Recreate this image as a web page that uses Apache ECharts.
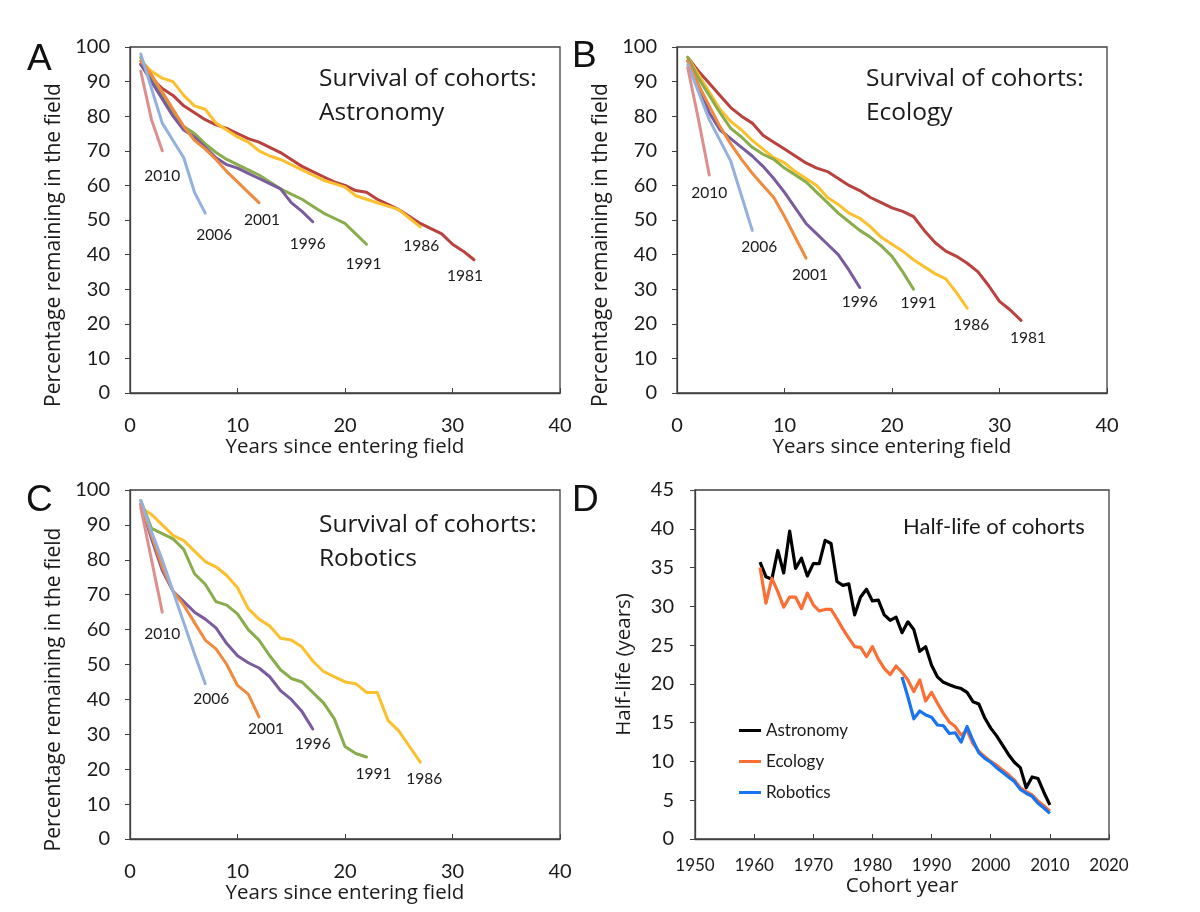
<!DOCTYPE html>
<html><head><meta charset="utf-8">
<script src="https://cdn.jsdelivr.net/npm/echarts@6/dist/echarts.min.js"></script>
<style>html,body{margin:0;padding:0;background:#fff}#c{width:1200px;height:912px}</style>
</head><body><div id="c"></div>
<script>
// ---------- DATA ----------
const cohortNames = ['1981','1986','1991','1996','2001','2006','2010'];
// Astronomy (A) - % remaining, year 1..N since entering field
const astro1981 = [95,91,88,86,83,81,79,77.5,76.5,75,73.5,72.5,71,69.5,67.5,65.5,64,62.5,61,60,58.5,58,56,54.5,53,51,49,47.5,46,43,41,38.5];
const astro1986 = [96,93,91,90,86,83,82,78,76,74,72.5,70,68.5,67.5,66,64.5,63,61.5,60.5,59.5,57,56,55,54,53,50.5,48];
const astro1991 = [97,91,86,81,77,75,72,69.5,67.5,66,64.5,63,61,59,57.5,56,54,52,50.5,49,46,43];
const astro1996 = [95,90,85,80,76,74,71,68,66,65,63.5,62,60.5,59,55,52.5,49.5];
const astro2001 = [96,92,87,82,77,73,70.5,67.5,64,61,58,55];
const astro2006 = [98,88,78,73,68,58,52];
const astro2010 = [93,79,70];
// Ecology (B)
const eco1981 = [97,93,89.5,86,82.5,80,78,74.5,72.5,70.5,68.5,66.5,65,64,62,60,58.5,56.5,55,53.5,52.5,51,47,43.5,41,39.5,37.5,35,31,26.5,24,21];
const eco1986 = [97,92,87,82,78.5,76,73,70.5,68,66.5,64,62,60,56.5,54.5,52,50.5,48,45,43,41,38.5,36.5,34.5,33,29,24.5];
const eco1991 = [97,91,86,81,76.5,74,71,69,67.5,65,63,61,58,55,52,49.5,47,45,42.5,39.5,35,30];
const eco1996 = [96,89,81,76,73.5,71,68.5,65.5,62,58,53.5,49,46,43,40,35.5,30.5];
const eco2001 = [96,89,83,77,72,67.5,63.5,60,56.5,51,45,39];
const eco2006 = [95,87,79,73,67,57,47];
const eco2010 = [94,79,63];
// Robotics (C)
const rob1986 = [95,93,90,87,85.5,82.5,79.5,78,75.5,72,66,63,61,57.5,57,55,51,48,46.5,45,44.5,42,42,34,31,26.5,22];
const rob1991 = [97,89,87.5,86,83,76,73,68,67,64.5,60,57,52.5,48.5,46,45,42,39,34.5,26.5,24.5,23.5];
const rob1996 = [96,86,77,71,68,65,63,60.5,56,52.5,50.5,49,46.5,42.5,40,36.5,31.5];
const rob2001 = [96,87,78,71,67,62,57,54.5,50,44,41.5,35];
const rob2006 = [97,88,80,71,62,53,44.5];
const rob2010 = [95,80,65];
// Half-life (D)
const hlYearsAll = Array.from({length:50},(_,i)=>1961+i);
const hlYearsRobo = Array.from({length:26},(_,i)=>1985+i);
const hlAstronomy = [35.7,33.8,33.5,37.2,34.3,39.7,34.9,36.2,33.9,35.5,35.5,38.5,38.1,33.2,32.7,32.9,28.9,31.2,32.2,30.7,30.8,28.9,28.2,28.6,26.6,28.0,27.0,24.2,24.8,22.4,20.9,20.2,19.9,19.6,19.4,18.9,17.7,17.4,15.6,14.3,13.3,12.1,10.9,9.9,9.2,6.6,8.0,7.8,6.0,4.4];
const hlEcology = [35.0,30.4,33.6,31.9,29.9,31.2,31.2,29.7,31.7,30.2,29.4,29.6,29.6,28.4,27.1,25.9,24.8,24.7,23.5,24.8,23.2,22.0,21.2,22.3,21.5,20.5,19.0,20.5,17.8,18.9,17.5,16.2,15.1,14.5,13.4,14.0,12.3,11.3,10.6,10.0,9.5,8.9,8.3,7.6,6.6,6.1,5.7,4.9,4.3,3.6];
const hlRobotics = [20.9,18.3,15.5,16.5,16.0,15.7,14.7,14.6,13.6,13.7,12.5,14.5,12.7,11.1,10.4,9.9,9.2,8.6,8.0,7.4,6.4,5.9,5.5,4.6,4.0,3.3];

// ---------- STYLE ----------
const FONT = 'Lato, "Open Sans", sans-serif';
const FONT2 = '"Open Sans", Lato, sans-serif';
const AX = '#404040';
const TXT = '#1a1a1a';
const cohortColors = ['#b9423f','#fcc02e','#89ad4d','#7a5c9e','#ef8a3f','#93b1dc','#dd8f8e'];
const labelOffsets = [
  [[-9,16],[1,19],[-3,20],[-5,22],[3,17],[9,22],[0,25]],
  [[7,18],[4,17],[5,14],[0,15],[4,17],[7,17],[0,18]],
  [null,[4,17],[7,17],[0,15],[7,12],[6,15],[0,22]]
];
const panelData = [
  [astro1981,astro1986,astro1991,astro1996,astro2001,astro2006,astro2010],
  [eco1981,eco1986,eco1991,eco1996,eco2001,eco2006,eco2010],
  [null,rob1986,rob1991,rob1996,rob2001,rob2006,rob2010]
];

const grids = [
  {left:130, top:47, width:430, height:346},
  {left:677, top:47, width:430, height:346},
  {left:130, top:490, width:430, height:349},
  {left:695, top:490, width:414, height:349}
].map(g=>Object.assign(g,{show:true,borderColor:AX,borderWidth:1.3,backgroundColor:'transparent'}));

function baseAxis(){
  return {
    axisLine:{show:true,lineStyle:{color:AX,width:1.3}},
    splitLine:{show:false},
    nameTextStyle:{fontFamily:FONT2,fontSize:20.5,color:TXT},
    nameLocation:'middle'
  };
}
const xAxes = [], yAxes = [];
for(let i=0;i<3;i++){
  xAxes.push(Object.assign(baseAxis(),{gridIndex:i,type:'value',min:0,max:40,interval:10,
    axisTick:{show:true,inside:true,length:5,lineStyle:{color:AX}},
    axisLabel:{fontFamily:FONT,fontSize:20,color:TXT,margin:23},
    name:'Years since entering field',nameGap:39}));
  yAxes.push(Object.assign(baseAxis(),{gridIndex:i,type:'value',min:0,max:100,interval:10,
    axisTick:{show:true,inside:false,length:5,lineStyle:{color:AX}},
    axisLabel:{fontFamily:FONT,fontSize:20,color:TXT,margin:20},
    name:'Percentage remaining in the field',nameGap:65,nameRotate:90,
    nameTextStyle:{fontFamily:FONT2,fontSize:21,color:TXT,padding:[0,50,0,0]}}));
}
xAxes.push(Object.assign(baseAxis(),{gridIndex:3,type:'value',min:1950,max:2020,interval:10,
  axisTick:{show:true,inside:true,length:5,lineStyle:{color:AX}},
  axisLabel:{fontFamily:FONT,fontSize:17,color:TXT,margin:18,formatter:v=>String(v)},
  name:'Cohort year',nameGap:37}));
yAxes.push(Object.assign(baseAxis(),{gridIndex:3,type:'value',min:0,max:45,interval:5,
  axisTick:{show:true,inside:false,length:5,lineStyle:{color:AX}},
  axisLabel:{fontFamily:FONT,fontSize:20,color:TXT,margin:21},
  name:'Half-life (years)',nameGap:60,nameRotate:90}));

const series = [];
panelData.forEach((arrs,p)=>{
  arrs.forEach((arr,k)=>{
    if(!arr) return;
    const data = arr.map((v,i)=>[i+1,v]);
    const last = data.length-1;
    data[last] = {value:data[last], label:{show:true,formatter:cohortNames[k],position:'inside',
      offset:labelOffsets[p][k],fontFamily:FONT,fontSize:15.5,color:TXT}};
    series.push({type:'line',name:'P'+p+'_'+cohortNames[k],xAxisIndex:p,yAxisIndex:p,data,
      symbol:'circle',symbolSize:0,showSymbol:true,label:{show:false},
      lineStyle:{width:3,color:cohortColors[k],join:'round',cap:'round'},itemStyle:{color:cohortColors[k]},
      silent:true});
  });
});
const hlColors = {Astronomy:'#000000',Ecology:'#fb6f35',Robotics:'#1874f0'};
[['Astronomy',hlYearsAll,hlAstronomy],['Ecology',hlYearsAll,hlEcology],['Robotics',hlYearsRobo,hlRobotics]].forEach(([n,xs,ys])=>{
  series.push({type:'line',name:n,xAxisIndex:3,yAxisIndex:3,data:xs.map((x,i)=>[x,ys[i]]),
    symbol:'none',lineStyle:{width:3.2,color:hlColors[n],join:'round'},itemStyle:{color:hlColors[n]},silent:true});
});

const LET = {fontFamily:'"Liberation Sans", Arial, sans-serif',fontSize:37,fontWeight:'normal',color:'#111'};
const TTL = {fontFamily:FONT2,fontSize:24.5,fontWeight:'normal',color:TXT,lineHeight:34};
const titles = [
  {text:'A',left:27,top:41,textStyle:LET},
  {text:'B',left:572,top:38,textStyle:LET},
  {text:'C',left:26,top:482,textStyle:LET},
  {text:'D',left:572,top:482,textStyle:LET},
  {text:'Survival of cohorts:\nAstronomy',left:319,top:62,textStyle:TTL},
  {text:'Survival of cohorts:\nEcology',left:866,top:62,textStyle:TTL},
  {text:'Survival of cohorts:\nRobotics',left:319,top:508,textStyle:TTL},
  {text:'Half-life of cohorts',left:903,top:516,textStyle:{fontFamily:FONT,fontSize:22,fontWeight:'normal',color:TXT}}
].map(t=>Object.assign(t,{padding:0}));

const chart = echarts.init(document.getElementById('c'),null,{renderer:'canvas'});
chart.setOption({
  animation:false,
  backgroundColor:'#ffffff',
  title:titles,
  legend:{data:[{name:'Astronomy',icon:'rect'},{name:'Ecology',icon:'rect'},{name:'Robotics',icon:'rect'}],
    orient:'vertical',left:734,top:717,itemWidth:22,itemHeight:3,itemGap:14,
    textStyle:{fontFamily:FONT,fontSize:17,color:TXT},selectedMode:false},
  grid:grids,
  xAxis:xAxes,
  yAxis:yAxes,
  series
});
</script></body></html>
